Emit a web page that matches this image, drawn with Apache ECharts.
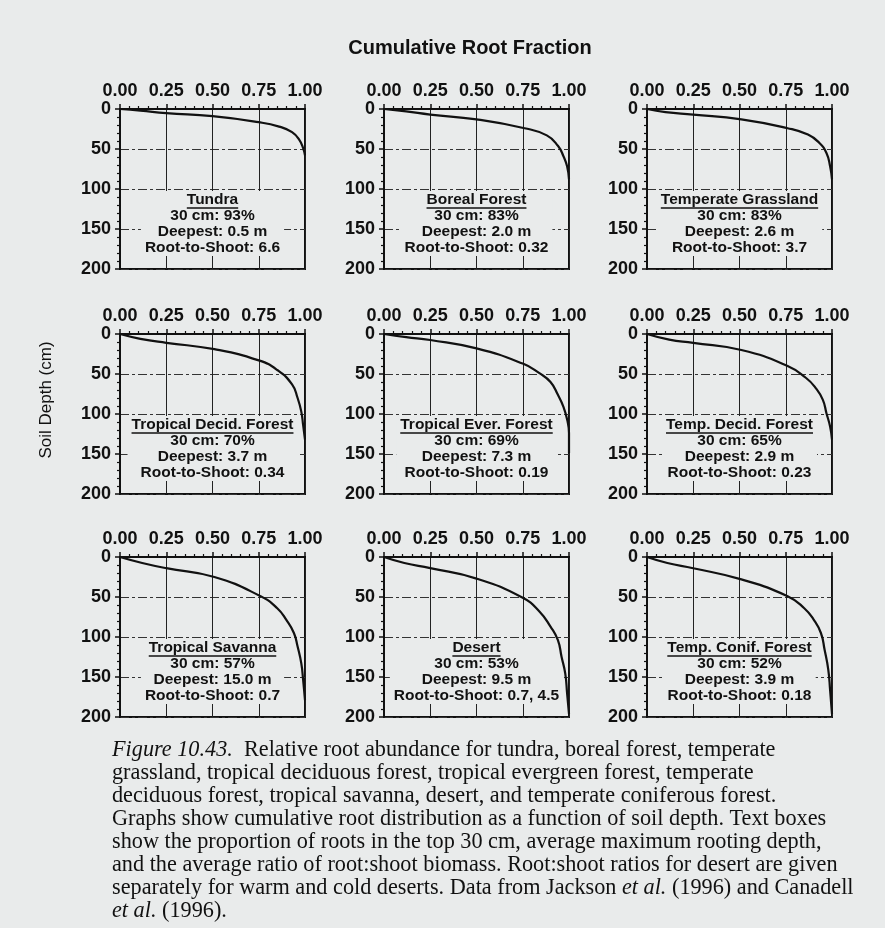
<!DOCTYPE html>
<html>
<head>
<meta charset="utf-8">
<script src="https://cdn.jsdelivr.net/npm/echarts@6/dist/echarts.min.js"></script>
<style>
html,body{margin:0;padding:0;background:#e9ebeb;}
#c{width:885px;height:928px;}
</style>
</head>
<body>
<div id="c"></div>
<script>
// ---- data ----
const biomeNames = ['Tundra','Boreal Forest','Temperate Grassland','Tropical Decid. Forest','Tropical Ever. Forest','Temp. Decid. Forest','Tropical Savanna','Desert','Temp. Conif. Forest'];
const top30 = ['30 cm: 93%','30 cm: 83%','30 cm: 83%','30 cm: 70%','30 cm: 69%','30 cm: 65%','30 cm: 57%','30 cm: 53%','30 cm: 52%'];
const deepest = ['Deepest: 0.5 m','Deepest: 2.0 m','Deepest: 2.6 m','Deepest: 3.7 m','Deepest: 7.3 m','Deepest: 2.9 m','Deepest: 15.0 m','Deepest: 9.5 m','Deepest: 3.9 m'];
const rootShoot = ['Root-to-Shoot: 6.6','Root-to-Shoot: 0.32','Root-to-Shoot: 3.7','Root-to-Shoot: 0.34','Root-to-Shoot: 0.19','Root-to-Shoot: 0.23','Root-to-Shoot: 0.7','Root-to-Shoot: 0.7, 4.5','Root-to-Shoot: 0.18'];
const xTickLabels = ['0.00','0.25','0.50','0.75','1.00'];
const yTickLabels = ['0','50','100','150','200'];

// cumulative root fraction vs soil depth (cm): [fraction, depth]
const tundra = [[0,0],[0.11,2],[0.25,5.2],[0.5,9],[0.75,16.5],[0.86,22],[0.93,29],[0.97,39],[0.99,49],[1.0,58]];
const borealForest = [[0,0],[0.12,3],[0.25,7],[0.5,13],[0.76,24],[0.88,33],[0.94,46],[0.97,59],[0.99,72],[1.0,88]];
const temperateGrassland = [[0,0],[0.10,4],[0.25,7],[0.51,13],[0.76,24],[0.87,32],[0.93,42],[0.97,55],[0.99,72],[1.0,88]];
const tropicalDecidForest = [[0,0],[0.11,6],[0.25,11],[0.51,19],[0.75,33],[0.85,45],[0.93,63],[0.96,80],[0.98,97],[0.99,114],[1.0,132]];
const tropicalEverForest = [[0,0],[0.12,4],[0.25,7.5],[0.5,18],[0.75,37],[0.84,49],[0.9,60],[0.94,76],[0.97,91],[0.99,107],[1.0,124],[1.0,149]];
const tempDecidForest = [[0,0],[0.12,7],[0.25,11],[0.51,20],[0.76,40],[0.86,55],[0.91,67],[0.95,82],[0.97,99],[0.99,116],[1.0,132]];
const tropicalSavanna = [[0,0],[0.12,7.5],[0.25,14],[0.51,25],[0.76,49],[0.85,64],[0.9,79],[0.94,95],[0.96,112],[0.98,133],[0.99,154],[1.0,179]];
const desert = [[0,0],[0.11,7.5],[0.25,14],[0.5,27],[0.75,51],[0.84,68],[0.9,87],[0.94,104],[0.96,125],[0.98,146],[0.99,171],[1.0,196]];
const tempConifForest = [[0,0],[0.11,7.5],[0.25,14],[0.51,28],[0.76,49],[0.85,64],[0.9,78],[0.94,95],[0.96,116],[0.98,141],[0.99,167],[1.0,196]];
const curves = [tundra, borealForest, temperateGrassland, tropicalDecidForest, tropicalEverForest, tempDecidForest, tropicalSavanna, desert, tempConifForest];

const captionLines = [
  [['i','Figure 10.43.'],['n','  Relative root abundance for tundra, boreal forest, temperate']],
  [['n','grassland, tropical deciduous forest, tropical evergreen forest, temperate']],
  [['n','deciduous forest, tropical savanna, desert, and temperate coniferous forest.']],
  [['n','Graphs show cumulative root distribution as a function of soil depth. Text boxes']],
  [['n','show the proportion of roots in the top 30 cm, average maximum rooting depth,']],
  [['n','and the average ratio of root:shoot biomass. Root:shoot ratios for desert are given']],
  [['n','separately for warm and cold deserts. Data from Jackson '],['i','et al.'],['n',' (1996) and Canadell']],
  [['i','et al.'],['n',' (1996).']]
];

// ---- layout ----
const BG = '#e9ebeb';
const INK = '#111';
const SANS = '"Liberation Sans", Arial, Helvetica, sans-serif';
const SERIF = '"Liberation Serif", "Times New Roman", serif';
const gridLefts = [120, 384, 647];
const gridTops = [109, 334, 557];
const W = 185, H = 160;

const cv = document.createElement('canvas').getContext('2d');
function textW(t, font){ cv.font = font; return cv.measureText(t).width; }

const grids = [], xAxes = [], yAxes = [], series = [], graphics = [];
curves.forEach((data, i) => {
  const left = gridLefts[i % 3], top = gridTops[Math.floor(i / 3)];
  grids.push({left: left, top: top, width: W, height: H, show: true, borderColor: INK, borderWidth: 2, backgroundColor: 'transparent'});
  xAxes.push({
    gridIndex: i, type: 'value', position: 'top', min: 0, max: 1, interval: 0.25,
    axisLine: {show: true, onZero: false, lineStyle: {color: INK, width: 2}},
    axisTick: {show: true, inside: false, length: 5, lineStyle: {color: INK, width: 1.5}},
    minorTick: {show: true, splitNumber: 5, length: 3, lineStyle: {color: INK, width: 1.2}},
    splitLine: {show: true, lineStyle: {color: '#222', width: 1}},
    axisLabel: {formatter: (v) => xTickLabels[Math.round(v / 0.25)], fontSize: 18, fontWeight: 'bold', color: INK, fontFamily: SANS, margin: 9}
  });
  yAxes.push({
    gridIndex: i, type: 'value', inverse: true, min: 0, max: 200, interval: 50,
    axisLine: {show: true, onZero: false, lineStyle: {color: INK, width: 2}},
    axisTick: {show: true, inside: false, length: 5, lineStyle: {color: INK, width: 1.5}},
    minorTick: {show: true, splitNumber: 5, length: 3, lineStyle: {color: INK, width: 1.2}},
    splitLine: {show: true, lineStyle: {color: '#333', width: 1, type: [9, 3, 3, 3]}},
    axisLabel: {formatter: (v) => yTickLabels[Math.round(v / 50)], fontSize: 18, fontWeight: 'bold', color: INK, fontFamily: SANS, margin: 9}
  });
  series.push({
    type: 'line', xAxisIndex: i, yAxisIndex: i, data: data, showSymbol: false,
    smooth: 0.5, lineStyle: {color: INK, width: 2.2}, z: 4
  });

  // text box
  const font = 'bold 15.5px ' + SANS;
  const lines = [biomeNames[i], top30[i], deepest[i], rootShoot[i]];
  const widths = lines.map(t => textW(t, font));
  const maxW = Math.max.apply(null, widths);
  const cx = left + W / 2;
  const offs = [91, 107, 123, 139];
  graphics.push({type: 'rect', z: 1, silent: true,
    shape: {x: cx - maxW / 2 - 4, y: top + 82, width: maxW + 8, height: 65},
    style: {fill: BG}});
  lines.forEach((t, k) => {
    graphics.push({type: 'text', z: 3, silent: true, x: cx, y: top + offs[k],
      style: {text: t, fill: INK, font: font, align: 'center', verticalAlign: 'middle'}});
  });
  graphics.push({type: 'line', z: 3, silent: true,
    shape: {x1: cx - widths[0] / 2, y1: top + offs[0] + 8, x2: cx + widths[0] / 2, y2: top + offs[0] + 8},
    style: {stroke: INK, lineWidth: 1.3}});
});

// title and axis name
graphics.push({type: 'text', z: 3, x: 470, y: 48,
  style: {text: 'Cumulative Root Fraction', fill: INK, font: 'bold 20px ' + SANS, align: 'center', verticalAlign: 'middle'}});
graphics.push({type: 'text', z: 3, x: 46, y: 400, rotation: Math.PI / 2,
  style: {text: 'Soil Depth (cm)', fill: INK, font: '17px ' + SANS, align: 'center', verticalAlign: 'middle'}});

// caption, sized so the widest line spans the same width as the original
const capLeft = 112, capTarget = 742;
let maxCap = 0;
captionLines.forEach(parts => {
  let w = 0;
  parts.forEach(p => { w += textW(p[1], (p[0] === 'i' ? 'italic ' : '') + '20px ' + SERIF); });
  maxCap = Math.max(maxCap, w);
});
const capSize = 20 * capTarget / maxCap;
captionLines.forEach((parts, k) => {
  const text = parts.map(p => '{' + p[0] + '|' + p[1] + '}').join('');
  graphics.push({type: 'text', z: 3, x: capLeft, y: 750 + k * 23,
    style: {text: text, fill: '#111', align: 'left', verticalAlign: 'middle',
      rich: {
        n: {fontFamily: SERIF, fontSize: capSize, fill: '#111'},
        i: {fontFamily: SERIF, fontSize: capSize, fontStyle: 'italic', fill: '#111'}
      }}});
});

const chart = echarts.init(document.getElementById('c'), null, {renderer: 'canvas'});
chart.setOption({
  backgroundColor: BG,
  animation: false,
  grid: grids, xAxis: xAxes, yAxis: yAxes, series: series,
  graphic: {elements: graphics}
});
</script>
</body>
</html>
